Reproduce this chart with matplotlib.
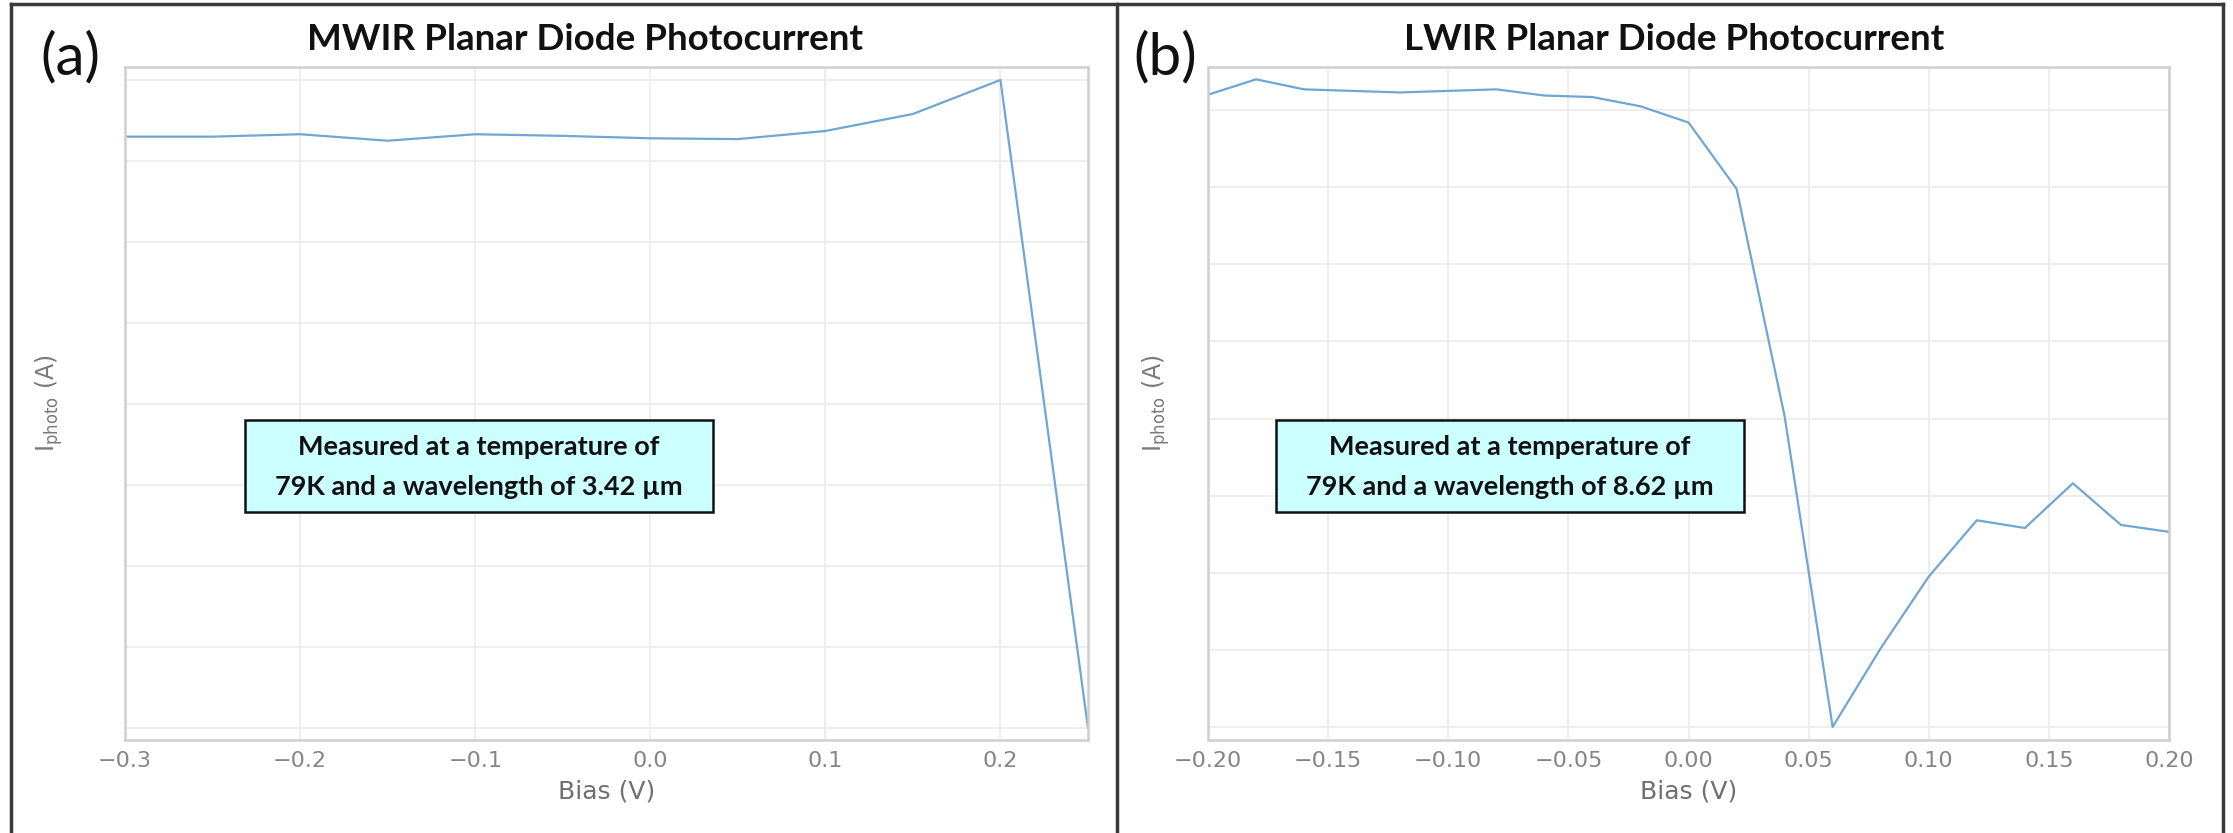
import matplotlib
matplotlib.use("Agg")
from matplotlib import pyplot as plt
from matplotlib.lines import Line2D
from matplotlib.patches import Rectangle

# MWIR panel (a): bias in V, photocurrent in arbitrary grid units
mwir_bias = [-0.30, -0.25, -0.20, -0.15, -0.10, -0.05, 0.00, 0.05, 0.10, 0.15, 0.20, 0.25]
mwir_iphoto = [7.30, 7.30, 7.33, 7.25, 7.33, 7.31, 7.28, 7.27, 7.37, 7.58, 8.00, 0.00]

# LWIR panel (b)
lwir_bias = [-0.20, -0.18, -0.16, -0.14, -0.12, -0.10, -0.08, -0.06, -0.04, -0.02, 0.00,
             0.02, 0.04, 0.06, 0.08, 0.10, 0.12, 0.14, 0.16, 0.18, 0.20]
lwir_iphoto = [8.20, 8.40, 8.27, 8.25, 8.23, 8.25, 8.27, 8.19, 8.17, 8.05, 7.84,
               6.98, 4.03, 0.00, 1.02, 1.95, 2.68, 2.58, 3.16, 2.62, 2.53]

mwir_xticks = [-0.3, -0.2, -0.1, 0.0, 0.1, 0.2]
mwir_xlabels = ["\u22120.3", "\u22120.2", "\u22120.1", "0.0", "0.1", "0.2"]
lwir_xticks = [-0.20, -0.15, -0.10, -0.05, 0.00, 0.05, 0.10, 0.15, 0.20]
lwir_xlabels = ["\u22120.20", "\u22120.15", "\u22120.10", "\u22120.05", "0.00",
                "0.05", "0.10", "0.15", "0.20"]
grid_levels = list(range(9))

titles = ["MWIR Planar Diode Photocurrent", "LWIR Planar Diode Photocurrent"]
note_line1 = "Measured at a temperature of"
note_line2 = ["79K and a wavelength of 3.42 \u00b5m", "79K and a wavelength of 8.62 \u00b5m"]

W, H = 2233, 833
fig = plt.figure(figsize=(W / 100, H / 100), dpi=100)

line_color = "#6fa6d3"
spine_color = "#cfcfcf"
grid_color = "#ebebeb"
tick_color = "#858585"
font = ["Lato", "DejaVu Sans"]


def fx(px):
    return px / W


def fy(py):
    return 1 - py / H


def setup_axes(left, right, xlim, ylim, xticks, xlabels, x, y):
    ax = fig.add_axes([fx(left), fy(740), fx(right - left), fy(67) - fy(740)])
    ax.plot(x, y, color=line_color, lw=1.6)
    ax.set_xlim(*xlim)
    ax.set_ylim(*ylim)
    ax.set_xticks(xticks)
    ax.set_xticklabels(xlabels)
    ax.set_yticks(grid_levels)
    ax.set_yticklabels([])
    ax.tick_params(axis="both", length=0, pad=8, labelsize=16, labelcolor=tick_color)
    ax.grid(True, color=grid_color, lw=1.2)
    ax.set_axisbelow(True)
    for s in ax.spines.values():
        s.set_color(spine_color)
        s.set_linewidth(1.8)
    ax.set_xlabel("Bias (V)", fontsize=18, color="#6f6f6f", labelpad=6)
    ax.set_ylabel(r"$\mathregular{I_{photo}}$ (A)", fontsize=17, color="#7a7a7a")
    return ax


ax1 = setup_axes(125, 1088, (-0.3, 0.25), (-0.148, 8.16), mwir_xticks, mwir_xlabels,
                 mwir_bias, mwir_iphoto)
ax2 = setup_axes(1208, 2169, (-0.2, 0.2), (-0.17, 8.56), lwir_xticks, lwir_xlabels,
                 lwir_bias, lwir_iphoto)
ax1.yaxis.set_label_coords((65 - 125) / (1088 - 125), 0.5)
ax2.yaxis.set_label_coords((1172 - 1208) / (2169 - 1208), 0.5)

# titles and panel letters
fig.text(fx(585), fy(40), titles[0], ha="center", va="center", fontsize=26.5,
         fontweight="bold", family=font, color="#111111")
fig.text(fx(1674), fy(40), titles[1], ha="center", va="center", fontsize=26.5,
         fontweight="bold", family=font, color="#111111")
fig.text(fx(70), fy(58), "(a)", ha="center", va="center", fontsize=42,
         family=font, color="#111111")
fig.text(fx(1165), fy(58), "(b)", ha="center", va="center", fontsize=42,
         family=font, color="#111111")

# note boxes
for left, l2 in [(245, note_line2[0]), (1276, note_line2[1])]:
    fig.add_artist(Rectangle((fx(left), fy(512)), fx(468), fy(420) - fy(512),
                             transform=fig.transFigure, fc="#ccffff", ec="#111111",
                             lw=1.8, zorder=5))
    cx = left + 234
    fig.text(fx(cx), fy(447), note_line1, ha="center", va="center", fontsize=19.5,
             fontweight="bold", family=font, color="#111111", zorder=6)
    fig.text(fx(cx), fy(487), l2, ha="center", va="center", fontsize=19.5,
             fontweight="bold", family=font, color="#111111", zorder=6)

# panel frames
frame = dict(color="#3a3a3a", lw=2.5, transform=fig.transFigure)
fig.add_artist(Line2D([fx(11), fx(2223)], [fy(4), fy(4)], **frame))
for xp in [11, 1117, 2223]:
    fig.add_artist(Line2D([fx(xp), fx(xp)], [fy(4), fy(833)], **frame))

fig.savefig("out.png", dpi=100, facecolor="white")
